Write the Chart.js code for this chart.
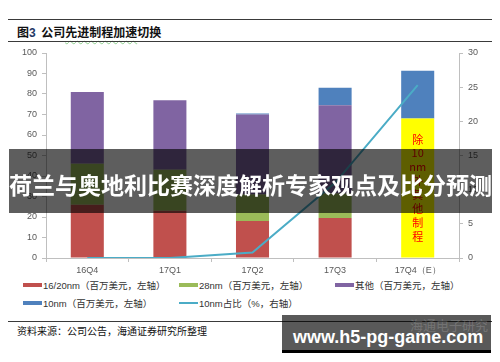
<!DOCTYPE html>
<html>
<head>
<meta charset="utf-8">
<script src="https://cdn.jsdelivr.net/npm/chart.js@4.4.0/dist/chart.umd.min.js"></script>
<style>
  body { margin: 0; background: #fff; }
  #page { position: relative; width: 500px; height: 362px; overflow: hidden; background: #fff;
          font-family: "Liberation Sans", "Noto Sans CJK SC", sans-serif; }
  .rule { position: absolute; left: 8px; width: 484px; height: 1px; background: #3a3a3a; }
  #title { position: absolute; left: 17px; top: 23px; font-size: 12px; line-height: 17px; font-weight: bold;
           font-family: "Noto Sans CJK SC", sans-serif; color: #111; white-space: nowrap; }
  #title .num { color: #1f3864; font-family: "Liberation Sans", sans-serif; }
  #title .squig { text-decoration: underline wavy #8fd18f; text-decoration-thickness: 1px; text-underline-offset: 3px; }
  #chartBox { position: absolute; left: 0; top: 40px; width: 500px; height: 240px; }
  .lg { position: absolute; font-size: 9.5px; line-height: 12px; color: #333; white-space: nowrap; }
  .sw { display: inline-block; width: 19px; height: 4px; vertical-align: middle; margin-right: 1px; position: relative; top: -1px; }
  #source { position: absolute; left: 17px; top: 325px; font-size: 10px; line-height: 12px; color: #111;
            font-family: "Noto Sans CJK SC", sans-serif; white-space: nowrap; }
  #banner { position: absolute; left: 9px; top: 149px; width: 483px; height: 64px; background: rgba(0,0,0,0.63);
            color: #fff; font-family: "Noto Sans CJK SC", sans-serif; font-weight: bold; font-size: 23px;
            line-height: 64px; white-space: nowrap; padding-top: 3px; box-sizing: border-box; z-index: 5; }
  #mark { position: absolute; left: 282px; top: 315px; width: 209px; height: 35px; background: rgba(0,0,0,0.65);
          border-bottom: 3px solid #000; z-index: 5; }
  #mark .faint { position: absolute; left: 128px; top: 2px; font-size: 13px; line-height: 16px; color: rgba(255,255,255,0.18);
                 font-family: "Noto Sans CJK SC", sans-serif; white-space: nowrap; }
  #mark .url { position: absolute; left: 11px; top: 12px; font-size: 18px; line-height: 20px; color: #fff; font-weight: bold;
               font-family: "Liberation Sans", sans-serif; white-space: nowrap; }
</style>
</head>
<body>
<div id="page">
  <div class="rule" style="top:19px;"></div>
  <div id="title">图<span class="num">3</span>&nbsp;&nbsp;公司<span class="squig">先进制程加速</span>切换</div>
  <div class="rule" style="top:41px;"></div>

  <div id="chartBox"><canvas id="chart" width="500" height="240"></canvas></div>

  <div class="lg" style="left:23px; top:280px;"><span class="sw" style="background:#C0504D"></span>16/20nm（百万美元，左轴）</div>
  <div class="lg" style="left:179px; top:280px;"><span class="sw" style="background:#9BBB59"></span>28nm（百万美元，左轴）</div>
  <div class="lg" style="left:335px; top:280px;"><span class="sw" style="background:#8064A2"></span>其他（百万美元，左轴）</div>
  <div class="lg" style="left:23px; top:298px;"><span class="sw" style="background:#4F81BD"></span>10nm（百万美元，左轴）</div>
  <div class="lg" style="left:179px; top:298px;"><span class="sw" style="background:#4BACC6; height:2px;"></span>10nm占比（%，右轴）</div>

  <div class="rule" style="top:321px;"></div>
  <div id="source">资料来源：公司公告，海通证券研究所整理</div>

  <div id="banner">荷兰与奥地利比赛深度解析专家观点及比分预测</div>
  <div id="mark"><span class="faint">海通电子研究</span><span class="url">www.h5-pg-game.com</span></div>
</div>

<script>
// quarters and values (USD mn, left axis; share in %, right axis)
const quarters = ['16Q4', '17Q1', '17Q2', '17Q3', '17Q4（E）'];
const nm1620 = [26, 23, 18, 19.5, 0];
const nm28 = [20, 20, 13, 12, 0];
const others = [35, 34, 39, 43, 0];
const otherNodesE = [0, 0, 0, 0, 68];   // yellow bar, 17Q4 estimate
const nm10 = [0, 0, 0.5, 8.5, 23.3];
const nm10Share = [0, 0, 0.8, 11, 25.3];
const yellowLabel = ['除', '10', 'nm', '外', '其', '他', '制', '程'];

const tickFont = { family: 'Liberation Sans', size: 9 };
const tickColor = '#595959';
const axisColor = '#bfbfbf';

function barSet(label, data, color) {
  return {
    type: 'bar', label: label, data: data, backgroundColor: color,
    borderWidth: 0, barPercentage: 0.4, categoryPercentage: 1, order: 1, yAxisID: 'y'
  };
}

// red text stacked inside the yellow bar
const yellowText = {
  id: 'yellowText',
  afterDatasetDraw: function (chart, args) {
    if (args.index !== 3) return;
    const bar = args.meta.data[4];
    if (!bar) return;
    const ctx = chart.ctx;
    const mid = (bar.y + bar.base) / 2;
    ctx.save();
    ctx.fillStyle = '#ff0000';
    ctx.font = '11px "Noto Sans CJK SC"';
    ctx.textAlign = 'center';
    ctx.textBaseline = 'middle';
    yellowLabel.forEach(function (t, i) {
      ctx.fillText(t, bar.x, mid + (i - 3.5) * 13.9);
    });
    ctx.restore();
  }
};

const ctx = document.getElementById('chart');
new Chart(ctx, {
  data: {
    labels: quarters,
    datasets: [
      barSet('16/20nm（百万美元，左轴）', nm1620, '#C0504D'),
      barSet('28nm（百万美元，左轴）', nm28, '#9BBB59'),
      barSet('其他（百万美元，左轴）', others, '#8064A2'),
      barSet('除10nm外其他制程', otherNodesE, '#FFFF00'),
      barSet('10nm（百万美元，左轴）', nm10, '#4F81BD'),
      {
        type: 'line', label: '10nm占比（%，右轴）', data: nm10Share, yAxisID: 'y1',
        borderColor: '#4BACC6', borderWidth: 2, pointRadius: 0, tension: 0, fill: false, order: 0
      }
    ]
  },
  options: {
    responsive: false,
    animation: false,
    layout: { padding: { top: 13, left: 0, right: 0, bottom: 0 } },
    plugins: { legend: { display: false }, tooltip: { enabled: false } },
    scales: {
      x: {
        stacked: true,
        grid: { drawOnChartArea: false, tickLength: 4, color: axisColor, offset: true },
        border: { color: axisColor },
        ticks: { font: tickFont, color: tickColor, padding: 3, maxRotation: 0 },
        afterFit: function (s) { s.height = 22; }
      },
      y: {
        stacked: true, position: 'left', min: 0, max: 100,
        grid: { drawOnChartArea: false, tickLength: 4, color: axisColor },
        border: { color: axisColor },
        ticks: { stepSize: 10, font: tickFont, color: tickColor, padding: 5 },
        afterFit: function (s) { s.width = 46; }
      },
      y1: {
        position: 'right', min: 0, max: 30,
        grid: { drawOnChartArea: false, tickLength: 4, color: axisColor },
        border: { color: axisColor },
        ticks: { stepSize: 5, font: tickFont, color: tickColor, padding: 5 },
        afterFit: function (s) { s.width = 41; }
      }
    }
  },
  plugins: [yellowText]
});
</script>
</body>
</html>
